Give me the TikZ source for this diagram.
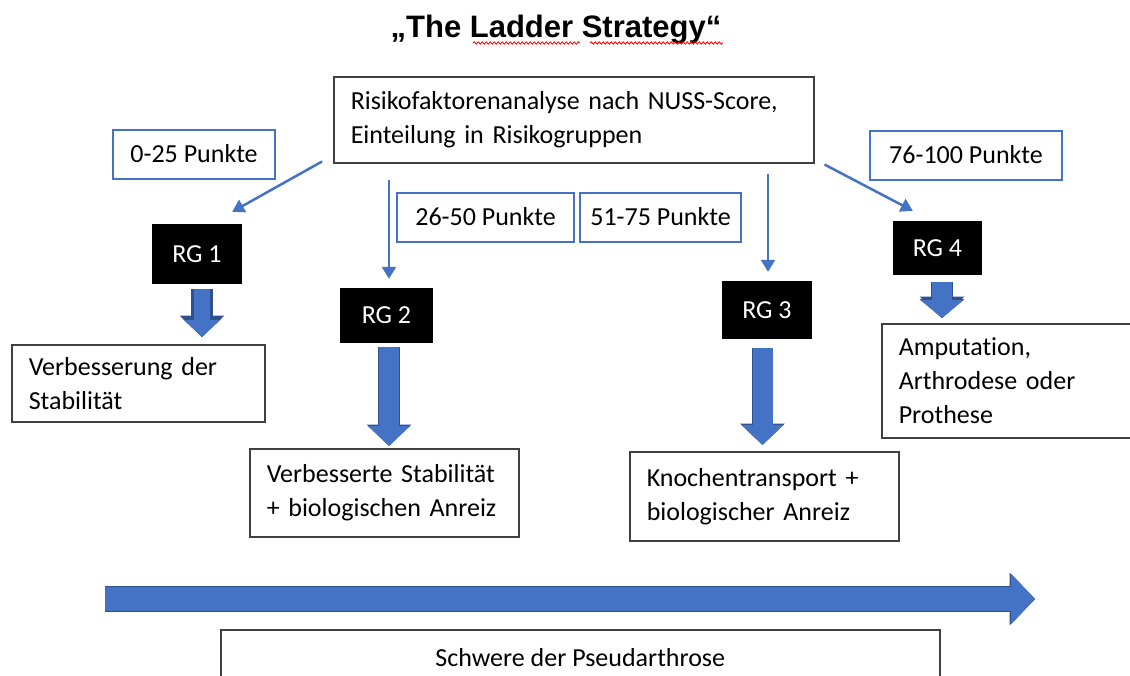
\documentclass[tikz,border=0pt]{standalone}
\usepackage{fontspec}
\setmainfont{Carlito}[Ligatures=NoCommon]
\newfontfamily\titlefont{Liberation Sans}
\usetikzlibrary{calc}
\usetikzlibrary{arrows.meta}
\usetikzlibrary{decorations.pathmorphing}

\definecolor{ladderblue}{HTML}{4472C4}
\definecolor{ladderdark}{HTML}{2F528F}

\begin{document}
\begin{tikzpicture}[x=1pt, y=-1pt, font=\fontsize{26}{34}\selectfont]
\tikzset{punkte/.style={draw=ladderblue,line width=2pt,minimum width=#1,minimum height=49pt,inner sep=0pt}}
\tikzset{rg/.style={fill=black,text=white,minimum width=90pt,minimum height=56pt,inner sep=0pt}}
\tikzset{box/.style={draw=black!75,line width=1.5pt,align=left,anchor=north west,inner xsep=17pt,inner ysep=0pt}}
\tikzset{pfeil/.style={draw=ladderblue,line width=2.5pt,-{Triangle[length=12pt,width=14pt]}}}
\tikzset{blockarrow/.style={draw=ladderblue,line width=20pt,-{Triangle[length=20pt,width=41pt]},
  preaction={draw=ladderdark,line width=21.5pt,-{Triangle[length=21.5pt,width=43.5pt]}}}}

\useasboundingbox (0,0) rectangle (1130,675);

% title with the red spell check line
\node[font=\titlefont\bfseries\fontsize{31}{36}\selectfont] (title) at (556,30) {„The Ladder Strategy“};
\draw[red,line width=0.8pt,decorate,decoration={snake,amplitude=1.2pt,segment length=4pt}] (473,43) -- (580,43);
\draw[red,line width=0.8pt,decorate,decoration={snake,amplitude=1.2pt,segment length=4pt}] (590,43) -- (723,43);

% analysis box
\node[box,text width=446pt,minimum height=86pt] (risk) at (333,76) {Risikofaktorenanalyse nach NUSS-Score,\\Einteilung in Risikogruppen};

% points
\node[punkte=162pt] (p0) at (194,154) {0-25 Punkte};
\node[punkte=177pt] (p26) at (485.5,217) {26-50 Punkte};
\node[punkte=161pt] (p51) at (660.5,217) {51-75 Punkte};
\node[punkte=192pt] (p76) at (966,155) {76-100 Punkte};

% risk groups
\node[rg,minimum height=60pt] (rg1) at (197,254) {RG 1};
\node[rg,minimum width=93pt,minimum height=55pt] (rg2) at (386.5,315.5) {RG 2};
\node[rg,minimum height=58pt] (rg3) at (767,310) {RG 3};
\node[rg,minimum width=89pt,minimum height=54pt] (rg4) at (937.5,248) {RG 4};

\draw[pfeil] ($(risk.south west)+(-11,-2)$) -- ($(rg1.north east)+(-10,-12)$);
\draw[pfeil] ($(risk.south west -| rg2.north)+(2.5,16)$) -- ($(rg2.north)+(2.5,-9)$);
\draw[pfeil] ($(risk.south west -| rg3.north)+(1,10)$) -- ($(rg3.north)+(1,-9)$);
\draw[pfeil] ($(risk.south east)+(10,1)$) -- ($(rg4.north west)+(20,-10)$);

% therapy
\node[box,text width=219pt,minimum height=77pt] (res1) at (11,344) {Verbesserung der\\Stabilität};
\node[box,text width=235pt,minimum height=88pt] (res2) at (249,448) {Verbesserte Stabilität\\+ biologischen Anreiz};
\node[box,text width=235pt,minimum height=89pt] (res3) at (629,451) {Knochentransport +\\biologischer Anreiz};
\node[box,text width=226pt,minimum height=114pt] (res4) at (881,323) {Amputation,\\Arthrodese oder\\Prothese};

\draw[blockarrow,line width=16pt,-{Triangle[length=17pt,width=35pt]},
  preaction={draw=ladderdark,line width=17.5pt,-{Triangle[length=18pt,width=37pt]}}]
  ($(rg1.south)+(5,5)$) -- ($(res1.north -| rg1.south)+(5,-7)$);
\draw[blockarrow] ($(rg2.south)+(2.5,4)$) -- ($(res2.north -| rg2.south)+(2.5,-2)$);
\draw[blockarrow] ($(rg3.south)+(-4.5,9)$) -- ($(res3.north -| rg3.south)+(-4.5,-6)$);
\draw[blockarrow,line width=20pt,-{Triangle[length=18pt,width=42pt]},
  preaction={draw=ladderdark,line width=21.5pt,-{Triangle[length=19pt,width=44pt]}}]
  ($(rg4.south)+(4.5,7)$) -- ($(res4.north -| rg4.south)+(4.5,-5)$);

% severity
\coordinate (sevstart) at (105,599);
\coordinate (sevend) at (1035,599);
\draw[blockarrow,line width=24pt,-{Triangle[length=24pt,width=49pt]},
  preaction={draw=ladderdark,line width=25.5pt,-{Triangle[length=25.5pt,width=51.5pt]}}] (sevstart) -- (sevend);
\node[draw=black!75,line width=1.5pt,anchor=north west,minimum width=719pt,minimum height=56pt,inner sep=0pt] (sev) at (220,629) {Schwere der Pseudarthrose};

\end{tikzpicture}
\end{document}
